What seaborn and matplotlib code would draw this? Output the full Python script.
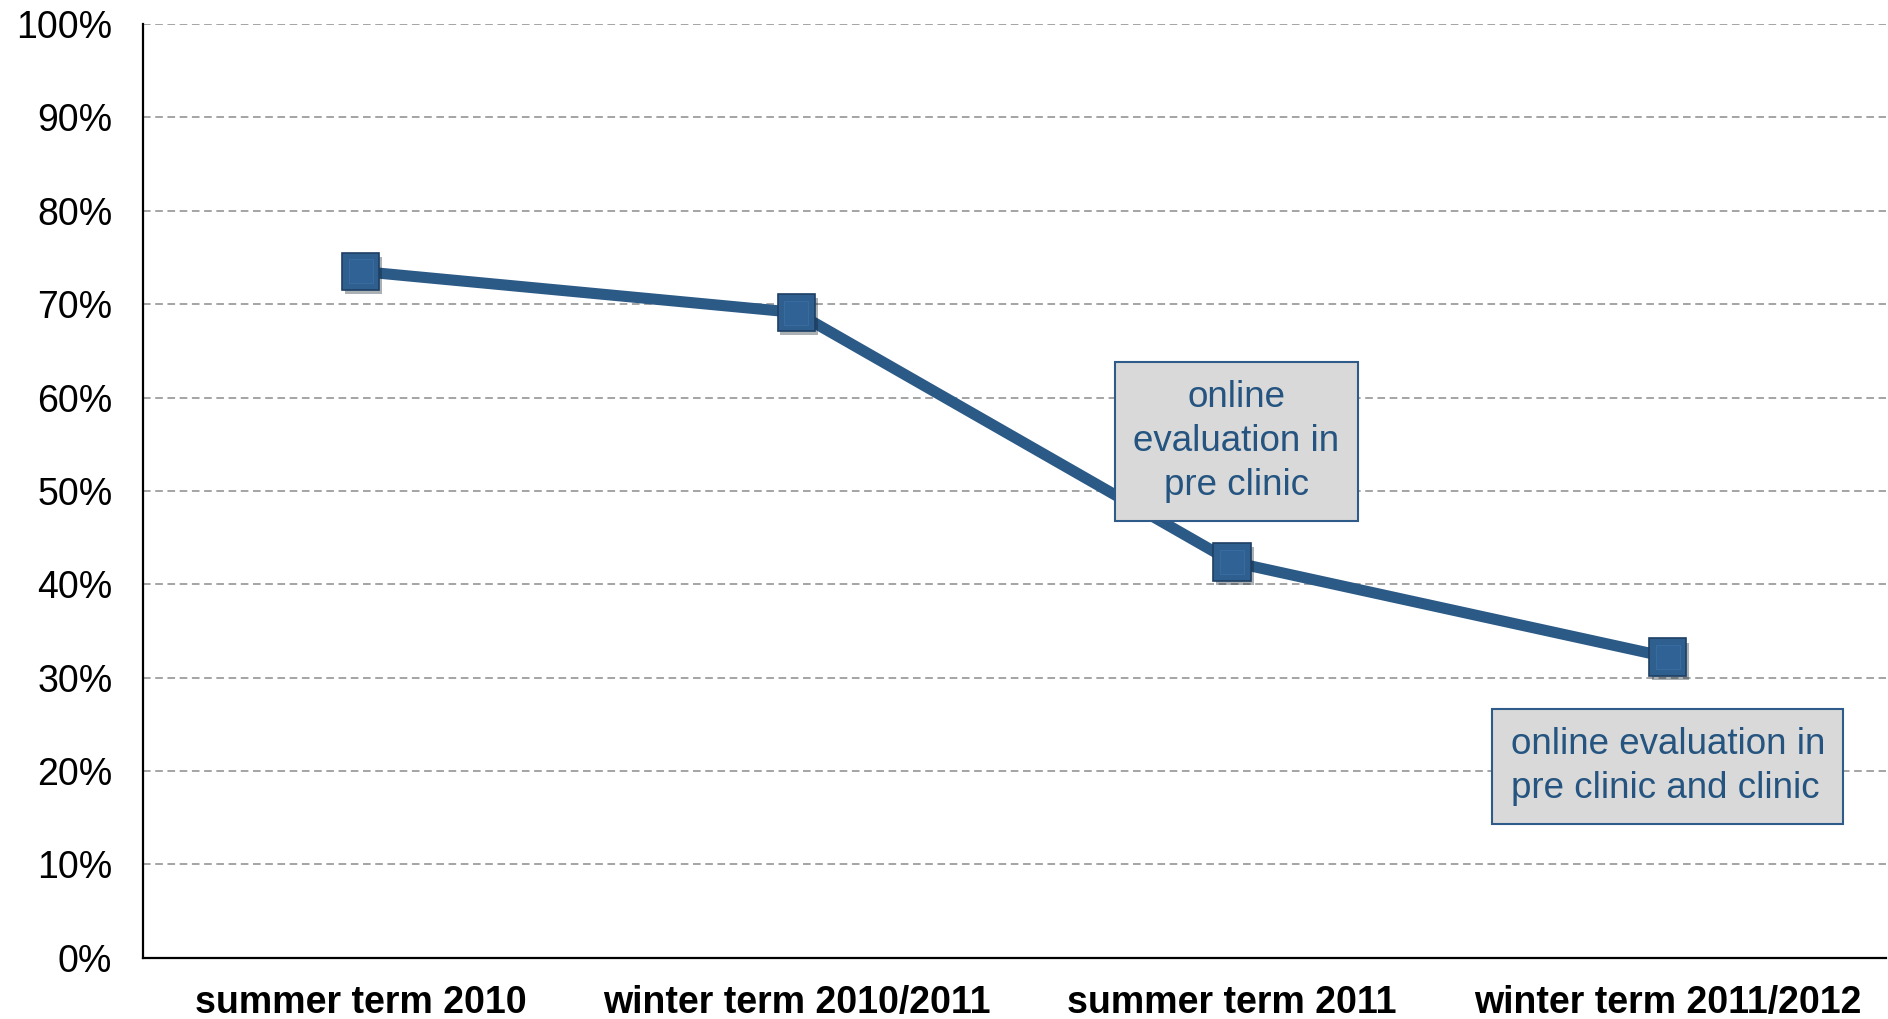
import matplotlib
matplotlib.use('Agg')
import matplotlib.pyplot as plt
import matplotlib.patheffects as pe
from matplotlib.ticker import FixedLocator, PercentFormatter
import seaborn as sns

# data
terms = ['summer term 2010', 'winter term 2010/2011', 'summer term 2011', 'winter term 2011/2012']
rates = [73.5, 69.1, 42.4, 32.2]

note_texts = ['online\nevaluation in\npre clinic', 'online evaluation in\npre clinic and clinic']
note_x = [2.01, 3.0]
note_y = [55.3, 20.5]
note_align = ['center', 'left']

line_col = '#2B5A87'
text_col = '#24547F'

sns.set_style('white')
plt.rcParams['font.family'] = ['Liberation Sans', 'DejaVu Sans']

fig = plt.figure(figsize=(18.88, 10.19), dpi=100)
ax = fig.add_axes([0.0757, 0.06, 0.923, 0.9165])

# the line itself
sns.lineplot(x=terms, y=rates, ax=ax, color=line_col, linewidth=8, sort=False)
# square markers with a soft drop shadow
sns.lineplot(x=terms, y=rates, ax=ax, linestyle='none', sort=False,
             marker='s', markersize=27, markerfacecolor='#2F5F8E',
             markeredgecolor='#1E3F63', markeredgewidth=1.2,
             path_effects=[pe.SimplePatchShadow(offset=(2, -3), alpha=0.35), pe.Normal()])
# slightly lighter inner face to hint at the bevel
sns.lineplot(x=terms, y=rates, ax=ax, linestyle='none', sort=False,
             marker='s', markersize=17, markerfacecolor='#316295',
             markeredgecolor='#3A6EA3', markeredgewidth=0.6)

ax.set_xlim(-0.5, 3.5)
ax.set_ylim(0, 100)
ax.yaxis.set_major_locator(FixedLocator(range(0, 101, 10)))
ax.yaxis.set_major_formatter(PercentFormatter(decimals=0))
ax.grid(axis='y', color='#8C8C8C', linestyle=(0, (5, 3)), linewidth=1.1)
ax.set_axisbelow(True)

for s in ['top', 'right']:
    ax.spines[s].set_visible(False)
for s in ['left', 'bottom']:
    ax.spines[s].set_color('black')
    ax.spines[s].set_linewidth(1.6)

ax.set_xticks(range(len(terms)))
ax.set_xticklabels(terms, fontsize=27, fontweight='bold', color='black')
ax.set_xticks([-0.5, 0.5, 1.5, 2.5, 3.5], minor=True)
ax.tick_params(axis='x', which='major', length=0, pad=19.5)
ax.tick_params(axis='x', which='minor', length=8, width=1.6, direction='out', color='black')
ax.tick_params(axis='y', length=0, labelsize=27, labelcolor='black', pad=22)
ax.set_xlabel('')
ax.set_ylabel('')

for t, x, y, al in zip(note_texts, note_x, note_y, note_align):
    ax.text(x, y, t, ha='center', va='center', multialignment=al, linespacing=1.32,
            fontsize=26.5, color=text_col, zorder=5,
            bbox=dict(boxstyle='square,pad=0.5', facecolor='#D9D9D9', edgecolor='#2E5B8A', linewidth=1.5))

fig.savefig('out.png', dpi=100)
